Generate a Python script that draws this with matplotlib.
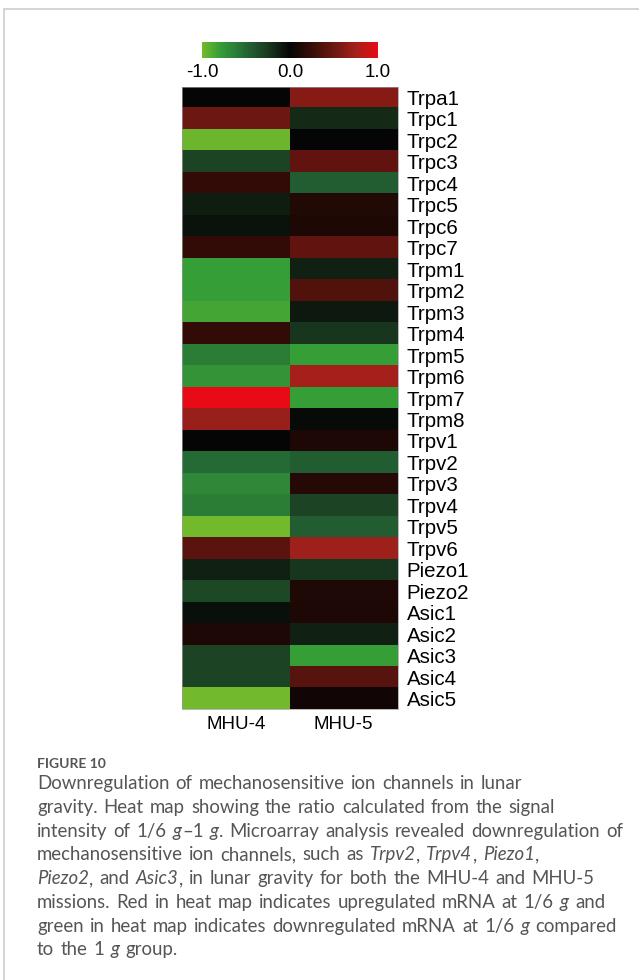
import re
import numpy as np
import matplotlib
matplotlib.use("Agg")
import matplotlib.pyplot as plt
from matplotlib.colors import LinearSegmentedColormap
from matplotlib.lines import Line2D

genes = ["Trpa1", "Trpc1", "Trpc2", "Trpc3", "Trpc4", "Trpc5", "Trpc6", "Trpc7",
         "Trpm1", "Trpm2", "Trpm3", "Trpm4", "Trpm5", "Trpm6", "Trpm7", "Trpm8",
         "Trpv1", "Trpv2", "Trpv3", "Trpv4", "Trpv5", "Trpv6",
         "Piezo1", "Piezo2", "Asic1", "Asic2", "Asic3", "Asic4", "Asic5"]
mhu4 = [0.0, 0.5, -0.97, -0.32, 0.22, -0.12, -0.07, 0.22,
        -0.8, -0.8, -0.85, 0.22, -0.62, -0.75, 1.0, 0.7,
        0.0, -0.52, -0.68, -0.62, -1.0, 0.42,
        -0.14, -0.34, -0.05, 0.12, -0.32, -0.32, -1.0]
mhu5 = [0.62, -0.18, 0.0, 0.45, -0.45, 0.14, 0.12, 0.45,
        -0.14, 0.38, -0.1, -0.24, -0.8, 0.75, -0.8, -0.03,
        0.12, -0.45, 0.15, -0.32, -0.45, 0.72,
        -0.24, 0.13, 0.12, -0.14, -0.8, 0.4, 0.06]
missions = ["MHU-4", "MHU-5"]
cbar_ticks = [-1.0, 0.0, 1.0]
cbar_labels = ["-1.0", "0.0", "1.0"]

caption_title = "FIGURE 10"
caption_lines = [
    "Downregulation of mechanosensitive ion channels in lunar",
    "gravity. Heat map showing the ratio calculated from the signal",
    "intensity of 1/6 *g*\u20131 *g*. Microarray analysis revealed downregulation of",
    "mechanosensitive ion channels, such as *Trpv2*, *Trpv4*, *Piezo1*,",
    "*Piezo2*, and *Asic3*, in lunar gravity for both the MHU-4 and MHU-5",
    "missions. Red in heat map indicates upregulated mRNA at 1/6 *g* and",
    "green in heat map indicates downregulated mRNA at 1/6 *g* compared",
    "to the 1 *g* group.",
]

W, H = 639, 980
fig = plt.figure(figsize=(W / 100, H / 100), dpi=100)
fig.patch.set_facecolor("white")

# green - black - red scale
nodes = [(-1.0, (0.45, 0.73, 0.17)), (-0.8, (0.21, 0.62, 0.22)),
         (-0.5, (0.14, 0.40, 0.21)), (-0.25, (0.10, 0.22, 0.12)),
         (0.0, (0.02, 0.02, 0.02)), (0.25, (0.22, 0.05, 0.03)),
         (0.5, (0.42, 0.09, 0.07)), (0.75, (0.64, 0.13, 0.11)),
         (1.0, (0.91, 0.04, 0.08))]
cmap = LinearSegmentedColormap.from_list("gbr", [((v + 1) / 2, c) for v, c in nodes])

data = np.column_stack([mhu4, mhu5])

ax = fig.add_axes([182 / W, 1 - 709.3 / H, 215.5 / W, 622.6 / H])
im = ax.imshow(data, cmap=cmap, vmin=-1, vmax=1, aspect="auto", interpolation="nearest")
ax.set_yticks(range(len(genes)))
ax.set_yticklabels(genes, family="Liberation Sans", fontsize=14.8)
ax.yaxis.tick_right()
ax.set_xticks(range(len(missions)))
ax.set_xticklabels(missions, family="Liberation Sans", fontsize=13.5)
ax.tick_params(axis="y", length=0, pad=6.5)
ax.tick_params(axis="x", length=0, pad=5)
for s in ax.spines.values():
    s.set_color("#9a9a9a")
    s.set_linewidth(0.5)

cax = fig.add_axes([202 / W, 1 - 58.3 / H, 176 / W, 16 / H])
cb = fig.colorbar(im, cax=cax, orientation="horizontal", ticks=cbar_ticks)
cb.outline.set_visible(False)
cb.ax.set_xticklabels(cbar_labels, family="Liberation Sans", fontsize=13.5)
cax.tick_params(length=0, pad=4)

# light frame around the panel
fig.add_artist(Line2D([4 / W, 1], [1 - 9 / H, 1 - 9 / H], color="#d4d4d4", lw=1.4))
fig.add_artist(Line2D([4 / W, 4 / W], [0, 1 - 9 / H], color="#d4d4d4", lw=1.4))

# caption
renderer = fig.canvas.get_renderer()
cap_kw = dict(family="Lato", fontsize=13.4, color="#555555")


def text_width(s, **kw):
    t = fig.text(0, 0, s, **kw)
    w = t.get_window_extent(renderer).width
    t.remove()
    return w


space = text_width("n n", **cap_kw) - text_width("nn", **cap_kw) + 1.0


def rich_line(x_px, y_px, line):
    x = x_px
    for i, part in enumerate(line.split("*")):
        style = "italic" if i % 2 else "normal"
        for tok in re.split(r"( )", part):
            if tok == " ":
                x += space
                continue
            if not tok:
                continue
            t = fig.text(x / W, 1 - y_px / H, tok, style=style, va="baseline", **cap_kw)
            x += t.get_window_extent(renderer).width + 0.3


fig.text(36.7 / W, 1 - 768.3 / H, caption_title, family="Lato", fontsize=10,
         fontweight="bold", color="#555555", va="baseline")
for k, line in enumerate(caption_lines):
    rich_line(37, 789.3 + k * 23.7, line)

fig.savefig("out.png", dpi=100)
